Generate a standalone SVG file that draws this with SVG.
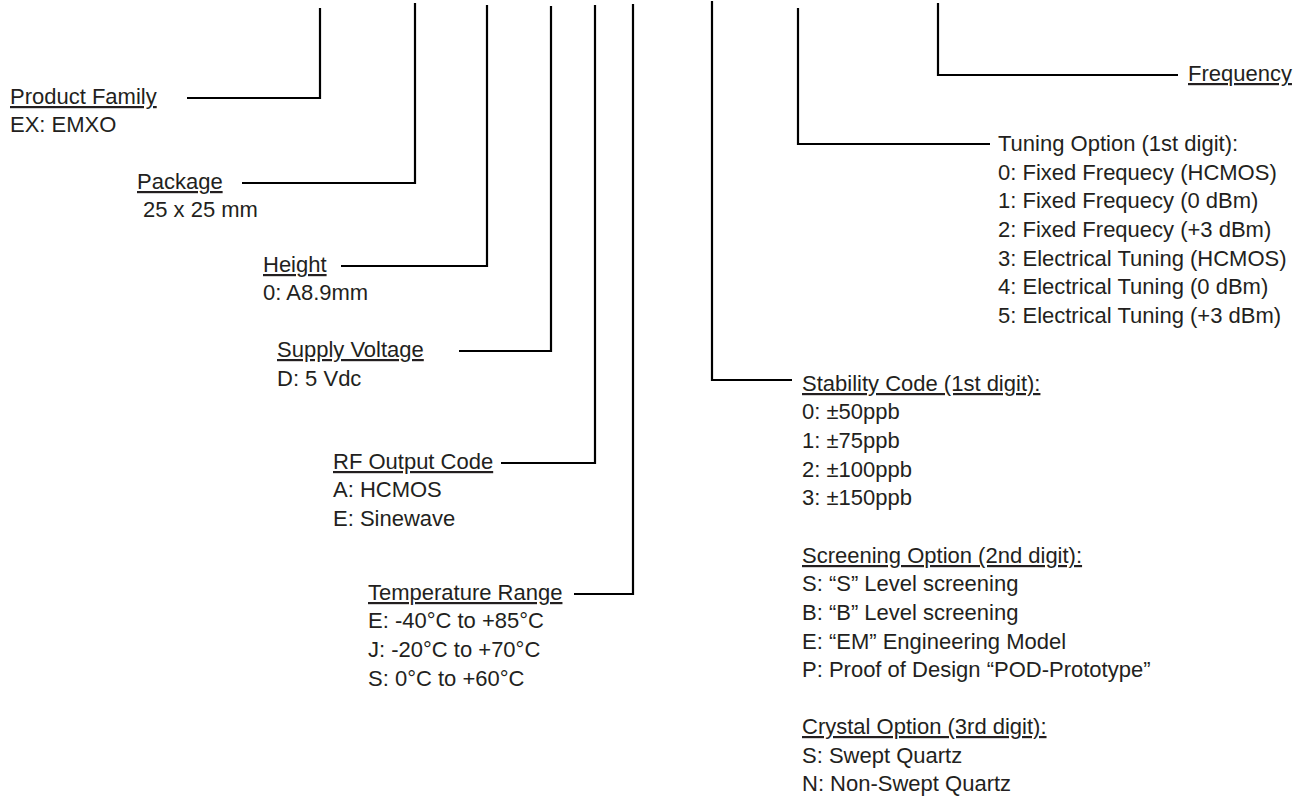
<svg xmlns="http://www.w3.org/2000/svg" width="1302" height="800" viewBox="0 0 1302 800">
<style>
text{font-family:"Liberation Sans",Arial,sans-serif;font-size:22px;fill:#231f20}
.u{text-decoration:underline}
.c{fill:none;stroke:#000;stroke-width:2.2;stroke-linejoin:miter}
</style>
<rect width="1302" height="800" fill="#fff"/>
<g id="connectors">
<polyline class="c" points="320,8 320,98 187,98"/>
<polyline class="c" points="415,3 415,183 242,183"/>
<polyline class="c" points="487,5 487,266 341,266"/>
<polyline class="c" points="551,6 551,351 459,351"/>
<polyline class="c" points="595,5 595,463 501,463"/>
<polyline class="c" points="633,4 633,594 574,594"/>
<polyline class="c" points="712,1 712,380 792,380"/>
<polyline class="c" points="798,8 798,144 990,144"/>
<polyline class="c" points="938,3 938,75 1178,75"/>
</g>
<g id="product-family">
<text x="10" y="104" class="u">Product Family</text>
<text x="10" y="132">EX: EMXO</text>
</g>
<g id="package">
<text x="137" y="189" class="u">Package</text>
<text x="143" y="217">25 x 25 mm</text>
</g>
<g id="height">
<text x="263" y="272" class="u">Height</text>
<text x="263" y="300">0: A8.9mm</text>
</g>
<g id="supply-voltage">
<text x="277" y="357" class="u">Supply Voltage</text>
<text x="277" y="386">D: 5 Vdc</text>
</g>
<g id="rf-output-code">
<text x="333" y="469" class="u">RF Output Code</text>
<text x="333" y="497">A: HCMOS</text>
<text x="333" y="526">E: Sinewave</text>
</g>
<g id="temperature-range">
<text x="368" y="600" class="u">Temperature Range</text>
<text x="368" y="628">E: -40°C to +85°C</text>
<text x="368" y="657">J: -20°C to +70°C</text>
<text x="368" y="686">S: 0°C to +60°C</text>
</g>
<g id="frequency">
<text x="1188" y="81" class="u">Frequency</text>
</g>
<g id="tuning-option">
<text x="998" y="151">Tuning Option (1st digit):</text>
<text x="998" y="180">0: Fixed Frequecy (HCMOS)</text>
<text x="998" y="208">1: Fixed Frequecy (0 dBm)</text>
<text x="998" y="237">2: Fixed Frequecy (+3 dBm)</text>
<text x="998" y="266">3: Electrical Tuning (HCMOS)</text>
<text x="998" y="294">4: Electrical Tuning (0 dBm)</text>
<text x="998" y="323">5: Electrical Tuning (+3 dBm)</text>
</g>
<g id="stability-code">
<text x="802" y="391" class="u">Stability Code (1st digit):</text>
<text x="802" y="419">0: ±50ppb</text>
<text x="802" y="448">1: ±75ppb</text>
<text x="802" y="477">2: ±100ppb</text>
<text x="802" y="505">3: ±150ppb</text>
</g>
<g id="screening-option">
<text x="802" y="563" class="u">Screening Option (2nd digit):</text>
<text x="802" y="591">S: “S” Level screening</text>
<text x="802" y="620">B: “B” Level screening</text>
<text x="802" y="649">E: “EM” Engineering Model</text>
<text x="802" y="677">P: Proof of Design “POD-Prototype”</text>
</g>
<g id="crystal-option">
<text x="802" y="734" class="u">Crystal Option (3rd digit):</text>
<text x="802" y="763">S: Swept Quartz</text>
<text x="802" y="791">N: Non-Swept Quartz</text>
</g>
</svg>
